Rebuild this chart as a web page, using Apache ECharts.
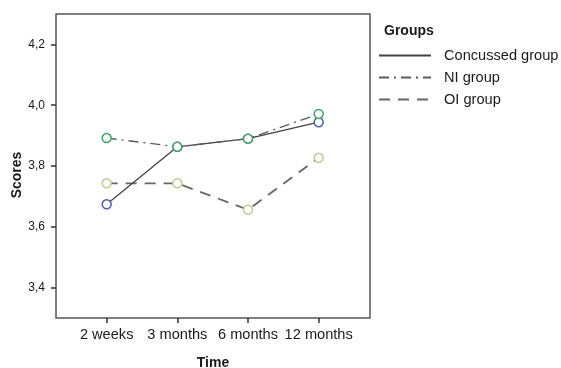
<!DOCTYPE html>
<html><head><meta charset="utf-8">
<script src="https://cdn.jsdelivr.net/npm/echarts@6/dist/echarts.min.js"></script>
<style>html,body{margin:0;padding:0;background:#fff}#c{width:561px;height:368px}</style>
</head><body><div id="c"></div>
<script>
var categories = ['2 weeks', '3 months', '6 months', '12 months'];
var concussed = [3.674, 3.863, 3.890, 3.944];
var niGroup = [3.892, 3.863, 3.890, 3.971];
var oiGroup = [3.743, 3.743, 3.656, 3.827];
var yTicks = [3.4, 3.6, 3.8, 4.0, 4.2];
var xTicks = [0, 1, 2, 3];

var font = 'Liberation Sans, Arial, sans-serif';
function pts(arr){ return arr.map(function(v,i){ return [i, v]; }); }
var chart = echarts.init(document.getElementById('c'));
chart.setOption({
  animation: false,
  textStyle: {fontFamily: font},
  title: {text: 'Groups', left: 384, top: 24, padding: 0, textStyle: {fontFamily: font, fontSize: 14, fontWeight: 'bold', color: '#1a1a1a'}},
  legend: {
    orient: 'vertical', left: 378, top: 48, padding: 0, itemWidth: 52, itemHeight: 14, itemGap: 7,
    itemStyle: {opacity: 0},
    textStyle: {fontFamily: font, fontSize: 14.6, color: '#1a1a1a', padding: [0,0,0,8]},
    data: ['Concussed group', 'NI group', 'OI group']
  },
  grid: {left: 56, top: 14, width: 314, height: 304, containLabel: false, outerBoundsMode: 'none',
         show: true, borderColor: '#555', borderWidth: 1.5, backgroundColor: '#fff'},
  xAxis: {
    type: 'value', min: -0.717, max: 3.726,
    name: 'Time', nameLocation: 'middle', nameGap: 38, nameMoveOverlap: false,
    nameTextStyle: {fontFamily: font, fontSize: 14, fontWeight: 'bold', color: '#1a1a1a'},
    axisLine: {show: false, onZero: false}, splitLine: {show: false},
    axisTick: {show: true, inside: false, length: 5, customValues: xTicks, lineStyle: {color: '#333', width: 1.5}},
    axisLabel: {customValues: xTicks, fontFamily: font, fontSize: 14.6, color: '#1a1a1a', margin: 9,
      formatter: function(v){ return categories[Math.round(v)] || ''; }}
  },
  yAxis: {
    type: 'value', min: 3.3, max: 4.3,
    name: 'Scores', nameLocation: 'middle', nameGap: 32, nameRotate: 90, nameMoveOverlap: false,
    nameTextStyle: {fontFamily: font, fontSize: 14, fontWeight: 'bold', color: '#1a1a1a', padding: [0, 18, 0, 0]},
    axisLine: {show: false, onZero: false}, splitLine: {show: false},
    axisTick: {show: true, inside: false, length: 5, customValues: yTicks, lineStyle: {color: '#333', width: 1.5}},
    axisLabel: {customValues: yTicks, fontFamily: font, fontSize: 12, color: '#1a1a1a', margin: 11,
      formatter: function(v){ return v.toFixed(1).replace('.', ','); }}
  },
  series: [
    {name: 'Concussed group', type: 'line', data: pts(concussed), symbol: 'circle', symbolSize: 9,
     lineStyle: {color: '#444', width: 1.3, type: 'solid'},
     itemStyle: {color: '#fff', borderColor: '#4a5cb5', borderWidth: 1.5}, z: 2},
    {name: 'NI group', type: 'line', data: pts(niGroup), symbol: 'circle', symbolSize: 9,
     lineStyle: {color: '#5a5a5a', width: 1.3, type: [10, 5, 2, 5]},
     itemStyle: {color: '#fff', borderColor: '#3aaa64', borderWidth: 1.5}, z: 3},
    {name: 'OI group', type: 'line', data: pts(oiGroup), symbol: 'circle', symbolSize: 9,
     lineStyle: {color: '#666', width: 1.8, type: [11, 8]},
     itemStyle: {color: '#fff', borderColor: '#c6c98e', borderWidth: 1.5}, z: 1}
  ]
});
</script></body></html>
